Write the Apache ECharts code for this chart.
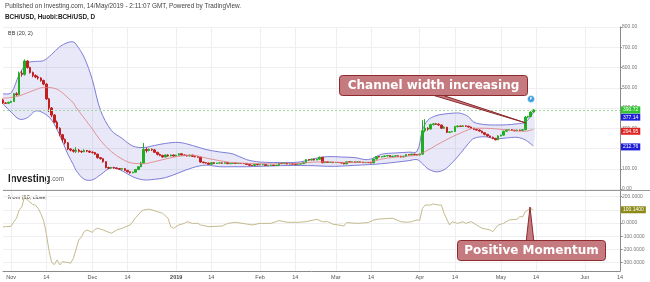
<!DOCTYPE html>
<html><head><meta charset="utf-8">
<script src="https://cdn.jsdelivr.net/npm/echarts@6/dist/echarts.min.js"></script>
<style>html,body{margin:0;padding:0;background:#fff}#c{width:650px;height:282px}</style>
</head><body><div id="c"></div>
<script>
// ---------- DATA ----------
const firstDay = [2018, 9, 29];      // 29 Oct 2018 (day index 0)
const dayCount = 229;                // through 14 Jun 2019
const monthLabels = ['2019','Feb','Mar','Apr','May','Jun','Jul','Aug','Sep','Oct','Nov','Dec'];

// daily candles [open, close, low, high], day 0 = 29 Oct 2018
const candles = [
[440,425,420,446],[425,423,420,428],[423,428,421,431],[428,432,425,436],[432,470,430,475],
[470,466,460,478],[466,572,462,580],[572,566,555,585],[566,632,560,640],[632,600,595,636],
[600,575,570,604],[575,560,552,580],[560,553,548,566],[553,548,540,560],[548,536,530,552],
[536,518,512,540],[518,445,440,522],[445,400,380,450],[400,365,355,405],[365,330,325,370],
[330,300,295,338],[300,268,260,305],[268,245,230,272],[245,228,220,250],[228,198,192,232],
[198,192,186,202],[192,186,180,196],[186,192,178,207],[192,186,180,198],[186,184,178,190],
[184,190,182,196],[190,187,182,193],[187,182,178,190],[182,180,175,186],[180,172,168,183],
[172,155,150,175],[155,150,145,158],[150,135,130,152],[135,106,102,137],[106,103,98,110],
[103,106,100,109],[106,104,100,110],[104,101,98,107],[101,98,95,104],[98,101,96,104],
[101,92,90,103],[92,85,82,94],[85,80,76,87],[80,83,78,86],[83,96,82,99],
[96,110,94,113],[110,128,108,135],[128,195,126,227],[195,190,180,205],[190,196,186,200],
[196,193,188,200],[193,181,178,198],[181,171,166,184],[171,166,162,175],[166,158,154,169],
[158,168,156,171],[168,163,160,171],[163,168,161,170],[168,163,160,170],[163,167,161,169],
[167,174,165,177],[174,168,166,176],[168,166,163,170],[166,163,161,169],[163,167,161,170],
[167,161,159,169],[161,159,156,164],[159,157,155,161],[157,133,129,159],[133,130,127,135],
[130,128,126,132],[128,122,120,130],[122,130,121,132],[130,126,124,132],[126,128,125,130],
[128,129,126,131],[129,127,125,131],[127,130,126,132],[130,125,123,131],[125,126,123,128],
[126,128,125,130],[128,126,124,129],[126,127,125,129],[127,126,124,128],[126,125,123,128],
[125,121,119,126],[121,117,115,122],[117,116,114,119],[116,121,115,123],[121,119,117,122],
[119,120,118,122],[120,121,118,123],[121,116,115,122],[116,117,114,119],[117,118,115,120],
[118,116,114,119],[116,117,114,119],[117,127,116,129],[127,126,124,129],[126,128,125,130],
[128,123,121,129],[123,124,122,126],[124,123,121,126],[123,122,120,125],[122,123,121,125],
[123,125,122,127],[125,130,124,132],[130,145,129,148],[145,143,140,147],[143,147,141,150],
[147,143,141,149],[143,147,142,149],[147,157,145,160],[157,130,127,158],[130,134,128,136],
[134,131,129,135],[131,132,129,134],[132,130,128,134],[130,131,129,133],[131,130.5,129,133],
[131,128,126,132],[128,124,122,129],[124,134,123,136],[134,133,131,136],[133,134,131,136],
[134,131,129,135],[131,134,130,136],[134,133,131,135],[133,130,128,134],[130,131,129,133],
[131,130,128,132],[130,129,127,131],[129,148,128,150],[148,160,146,163],[160,158,156,162],
[158,160,156,162],[160,163,158,165],[163,165,161,168],[165,160,158,166],[160,162,158,164],
[162,164,161,166],[164,162,160,165],[162,158,156,164],[158,162,157,164],[162,170,161,173],
[170,168,166,172],[168,172,167,175],[172,170,168,174],[170,168,166,172],[168,172,166,175],
[172,288,170,340],[288,300,280,345],[300,296,288,305],[296,318,294,322],[318,322,314,326],
[322,320,316,325],[320,316,312,324],[316,300,296,318],[300,305,298,310],[305,280,276,307],
[280,282,276,285],[282,284,280,287],[284,308,282,312],[308,311,304,314],[311,309,306,313],
[309,312,307,315],[312,310,307,314],[310,306,303,312],[306,300,298,308],[300,294,291,302],
[294,291,288,297],[291,286,283,294],[286,278,275,288],[278,270,265,280],[270,262,258,272],
[262,256,252,264],[256,250,246,258],[250,243,240,252],[243,262,241,265],[262,266,260,268],
[266,285,264,288],[285,292,283,296],[292,293,289,296],[293,290,287,295],[290,288,285,292],
[288,291,286,294],[291,289,286,293],[289,293,287,296],[293,355,290,360],[355,358,350,362],
[358,380,354,384],[380,390.72,376,395]
];

// Bollinger Bands (20, 2), read at sampled days
const bbDays   = [0,3,6,9,12,15,18,21,24,26,27,30,33,36,40,44,48,52,56,60,65,70,75,80,85,90,95,100,105,110,115,120,125,130,135,140,145,150,153,155,157,160,163,166,169,172,174,178,182,186,190,193,196];
const bbUpper  = [470,475,565,622,630,634,665,703,724,726,715,650,540,390,290,250,212,205,215,225,230,215,195,183,173,145,133,131,130,134,150,160,158,155,145,172,178,182,186,290,340,362,370,374,374,357,330,318,316,317,322,330,377.14];
const bbMiddle = [448,452,460,475,490,502,500,485,450,425,403,350,297,240,185,148,127,125,135,148,162,167,153,140,130,127,125,124,125,127,133,134,131,131,132,148,157,163,167,178,192,215,237,258,276,293,300,300,297,292,286,285,294.95];
const bbLower  = [420,380,345,352,385,375,340,265,170,120,92,48,45,70,105,90,60,45,48,56,80,105,118,110,110,110,112,114,116,116,115,112,113,117,120,125,132,140,145,125,100,85,95,130,175,225,250,258,248,252,255,242,212.76];

// Momentum (10, close), [day, value]
const momentum = [[0,-30],[1,-28],[3,-25],[4,10],[5,36],[6,100],[7,124],[8,205],[9,174],[11,140],[12,135],[13,111],[14,70],[15,20],[16,-80],[17,-210],[18,-300],[19,-315],[20,-280],[21,-318],[22,-293],[24,-300],[25,-305],[26,-268],[28,-129],[29,-104],[30,-66],[31,-53],[33,-71],[34,-48],[35,-40],[37,-53],[40,-78],[42,-53],[44,-40],[47,-15],[49,40],[51,86],[52,98],[54,105],[57,86],[59,73],[61,36],[62,-28],[63,-40],[65,-15],[67,-3],[68,10],[70,-3],[72,-3],[73,-15],[76,-28],[81,-23],[83,-3],[86,5],[90,-8],[92,-15],[95,-3],[99,-3],[102,18],[105,5],[109,5],[112,10],[116,28],[118,10],[120,10],[122,-10],[124,-15],[126,-23],[127,3],[131,-3],[135,3],[137,23],[139,30],[144,36],[147,10],[149,5],[151,10],[153,23],[154,20],[155,110],[156,136],[158,136],[159,144],[161,136],[162,136],[163,73],[165,-15],[166,10],[168,-3],[170,10],[171,-3],[173,10],[175,-15],[177,-40],[180,-53],[181,-66],[183,-15],[185,-3],[187,23],[190,28],[191,50],[192,45],[193,86],[194,98],[195,110],[196,100.14]];

const lastClose = 390.72;
const lastMom = 100.14;

// ---------- BUILD ----------
const dates = [];
for (let i = 0; i < dayCount; i++) {
  const dt = new Date(Date.UTC(firstDay[0], firstDay[1], firstDay[2] + i));
  dates.push(dt.toISOString().slice(0, 10));
}
const isMark = (v) => { const d = +v.slice(8, 10); return d === 1 || d === 14; };
const markFn = (idx, v) => isMark(v);
const FONT = 'Liberation Sans, Arial, sans-serif';
const upperLast = bbUpper[bbUpper.length - 1], midLast = bbMiddle[bbMiddle.length - 1], lowerLast = bbLower[bbLower.length - 1];
const SMOOTH = 0.35;

function spread(days, vals) {
  const arr = new Array(dayCount).fill(null);
  days.forEach((d, i) => { arr[d] = vals[i]; });
  return arr;
}
const midArr = spread(bbDays, bbMiddle);
const momArr = spread(momentum.map(p => p[0]), momentum.map(p => p[1]));

function tagItem(value, text, bg, offset) {
  return { yAxis: value,
    label: { show: true, position: 'end', distance: 1, formatter: text, color: '#fff', backgroundColor: bg,
             padding: [1, 2, 1, 2], fontSize: 5, fontFamily: FONT, offset: offset || [0, 0] } };
}
function tagLine(items, lineStyle) {
  return { silent: true, symbol: 'none', animation: false,
    lineStyle: lineStyle || { color: 'rgba(0,0,0,0)', width: 0 }, data: items };
}

function renderBand(params, api) {
  const up = bbDays.map((d, i) => api.coord([d, bbUpper[i]]));
  const lo = bbDays.map((d, i) => api.coord([d, bbLower[i]]));
  return { type: 'group', children: [
    { type: 'polygon', shape: { points: up.concat(lo.slice().reverse()), smooth: SMOOTH },
      style: { fill: 'rgba(120,120,215,0.17)' } },
    { type: 'polyline', shape: { points: up, smooth: SMOOTH }, style: { stroke: '#7d7dd8', lineWidth: 1, fill: null } },
    { type: 'polyline', shape: { points: lo, smooth: SMOOTH }, style: { stroke: '#7d7dd8', lineWidth: 1, fill: null } }
  ] };
}

const chart = echarts.init(document.getElementById('c'), null, { renderer: 'canvas' });
chart.setOption({
  animation: false,
  backgroundColor: '#fff',
  grid: [
    { left: 3, right: 30, top: 27, height: 162 },
    { left: 3, right: 30, top: 190, height: 81 }
  ],
  xAxis: [
    { type: 'category', gridIndex: 0, data: dates, boundaryGap: false,
      axisLine: { show: false }, axisTick: { show: false }, axisLabel: { show: false },
      splitLine: { show: true, interval: markFn, lineStyle: { color: '#efeff2', width: 1 } } },
    { type: 'category', gridIndex: 1, data: dates, boundaryGap: false,
      axisLine: { show: true, onZero: false, lineStyle: { color: '#8a8a8a' } }, axisTick: { show: false },
      axisLabel: { show: true, interval: markFn, fontSize: 5.5, color: '#555', margin: 3, fontFamily: FONT,
        formatter: (v) => { const d = +v.slice(8, 10), m = +v.slice(5, 7); if (d === 1) { return m === 1 ? '{b|2019}' : monthLabels[m - 1]; } if (d === 14) return '14'; return ''; },
        rich: { b: { fontWeight: 'bold', fontSize: 5.5, color: '#444', fontFamily: FONT } } },
      splitLine: { show: true, interval: markFn, lineStyle: { color: '#efeff2', width: 1 } } }
  ],
  yAxis: [
    { type: 'value', gridIndex: 0, position: 'right', min: 0, max: 800, interval: 100,
      axisLine: { show: true, lineStyle: { color: '#8a8a8a' } },
      axisTick: { show: true, length: 2, lineStyle: { color: '#8a8a8a' } },
      axisLabel: { fontSize: 5, color: '#777', margin: 2, fontFamily: FONT, formatter: (v) => v.toFixed(2) },
      splitLine: { show: true, lineStyle: { color: '#efeff2' } } },
    { type: 'value', gridIndex: 1, position: 'right', min: -364, max: 250, splitNumber: 6,
      axisLine: { show: true, lineStyle: { color: '#8a8a8a' } },
      axisTick: { show: true, length: 2, lineStyle: { color: '#8a8a8a' } },
      axisLabel: { fontSize: 5, color: '#777', margin: 2, fontFamily: FONT, showMinLabel: false, showMaxLabel: false,
        formatter: (v) => v.toFixed(4) },
      splitLine: { show: true, lineStyle: { color: '#efeff2' } } }
  ],
  series: [
    { type: 'custom', name: 'BB band', xAxisIndex: 0, yAxisIndex: 0, data: [0], silent: true, clip: true,
      renderItem: renderBand },
    { type: 'line', name: 'BB basis', xAxisIndex: 0, yAxisIndex: 0, data: midArr, connectNulls: true, smooth: SMOOTH,
      symbol: 'none', silent: true, lineStyle: { color: '#e07c7c', width: 0.8 },
      markLine: tagLine([
        tagItem(upperLast, upperLast.toFixed(2), '#1f1fd9', [0, 4.5]),
        tagItem(midLast, midLast.toFixed(2), '#e02424', [0, 2]),
        tagItem(lowerLast, lowerLast.toFixed(2), '#1f1fd9', [0, 1])
      ]) },
    { type: 'candlestick', name: 'BCH/USD', xAxisIndex: 0, yAxisIndex: 0, data: candles, barWidth: 2,
      silent: true,
      itemStyle: { color: '#21ad21', color0: '#c21f1f', borderColor: '#21ad21', borderColor0: '#c21f1f', borderWidth: 1 },
      markLine: tagLine([tagItem(lastClose, lastClose.toFixed(2), '#30c430')], { color: '#9ed89e', type: [2, 2], width: 1 }) },
    { type: 'line', name: 'Mom', xAxisIndex: 1, yAxisIndex: 1, data: momArr, connectNulls: true, symbol: 'none', silent: true,
      lineStyle: { color: '#c4bb8e', width: 1 },
      markLine: tagLine([tagItem(lastMom, lastMom.toFixed(4), '#8c8a17')]) }
  ],
  graphic: [
    { type: 'text', left: 5, top: 3, style: { text: 'Published on Investing.com, 14/May/2019 - 2:11:07 GMT, Powered by TradingView.', fontSize: 6.4, fill: '#444', fontFamily: FONT } },
    { type: 'text', left: 5, top: 14, style: { text: 'BCH/USD, Huobi:BCH/USD, D', fontSize: 6.4, fontWeight: 'bold', fill: '#222', fontFamily: FONT } },
    { type: 'text', left: 8, top: 30, style: { text: 'BB (20, 2)', fontSize: 5.5, fill: '#333', fontFamily: FONT } },
    { type: 'text', left: 8, top: 194, style: { text: 'Mom (10, close)', fontSize: 5.5, fill: '#333', fontFamily: FONT } },
    { type: 'text', x: 8, y: 173, scaleX: 0.88, style: { text: '{a|Investing}{c|.com}', fontFamily: FONT,
        rich: { a: { fontSize: 11, fontWeight: 'bold', fill: '#1d1d1d', fontFamily: FONT }, c: { fontSize: 7, fill: '#666', fontFamily: FONT, padding: [2, 0, 0, 0] } } } },
    { type: 'line', shape: { x1: 3, y1: 190.5, x2: 650, y2: 190.5 }, style: { stroke: '#999', lineWidth: 1 }, z: 50 },
    // callout: Channel width increasing
    { type: 'polygon', shape: { points: [[429, 94], [439, 94], [526, 123]] }, style: { fill: '#c47a7e', stroke: '#8c2a2e', lineWidth: 1 }, z: 60 },
    { type: 'rect', shape: { x: 339.5, y: 75.5, width: 188, height: 20, r: 3 }, style: { fill: '#c47a7e', stroke: '#8c2a2e', lineWidth: 1 }, z: 61 },
    { type: 'text', x: 433.5, y: 85.5, z: 62, style: { text: 'Channel width increasing', fontSize: 12, fontWeight: 'bold', fill: '#fff', fontFamily: 'DejaVu Sans', align: 'center', verticalAlign: 'middle' } },
    // event marker
    { type: 'circle', shape: { cx: 531, cy: 99, r: 3.5 }, style: { fill: '#3d9be0', stroke: '#fff', lineWidth: 0.5 }, z: 60 },
    { type: 'text', x: 531, y: 99, z: 61, style: { text: 'F', fontSize: 4, fontWeight: 'bold', fill: '#fff', fontFamily: FONT, align: 'center', verticalAlign: 'middle' } },
    // callout: Positive Momentum
    { type: 'polygon', shape: { points: [[526, 243], [534, 243], [530, 207]] }, style: { fill: '#c47a7e', stroke: '#8c2a2e', lineWidth: 1 }, z: 60 },
    { type: 'rect', shape: { x: 457.5, y: 240.5, width: 148, height: 20, r: 3 }, style: { fill: '#c47a7e', stroke: '#8c2a2e', lineWidth: 1 }, z: 61 },
    { type: 'text', x: 531.5, y: 250.5, z: 62, style: { text: 'Positive Momentum', fontSize: 12, fontWeight: 'bold', fill: '#fff', fontFamily: 'DejaVu Sans', align: 'center', verticalAlign: 'middle' } }
  ]
});
</script>
</body></html>
